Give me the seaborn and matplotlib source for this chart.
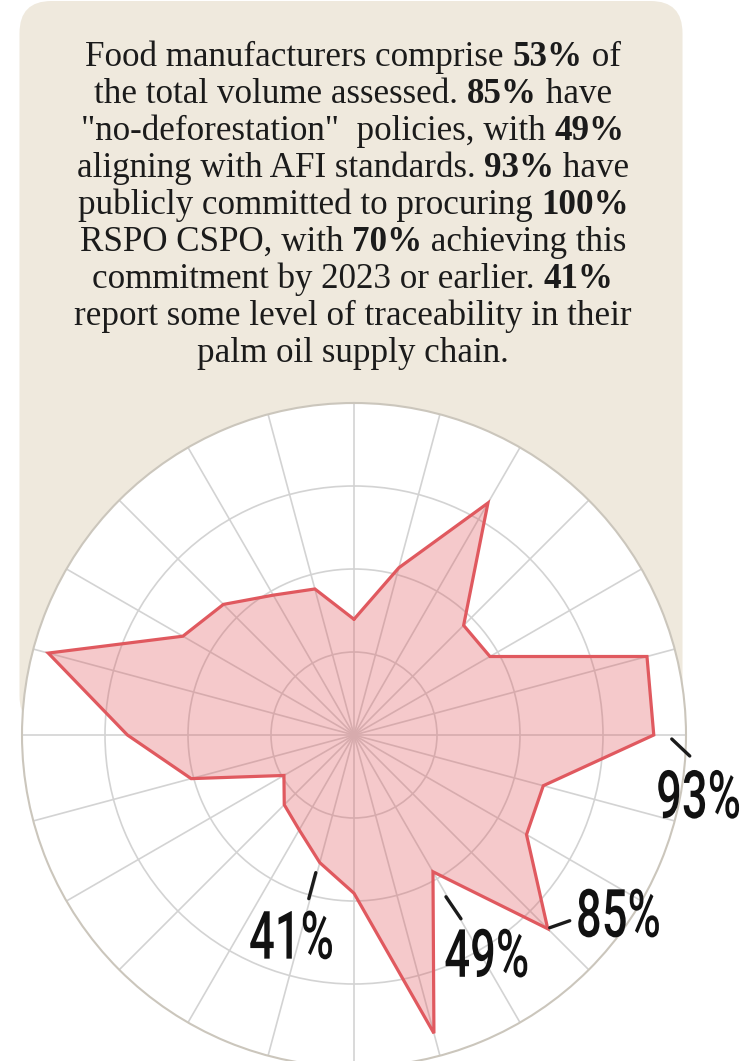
import numpy as np
import pandas as pd
import matplotlib
matplotlib.use("Agg")
import matplotlib.pyplot as plt
import seaborn as sns
from matplotlib.patches import FancyBboxPatch
from matplotlib.patheffects import AbstractPathEffect
from matplotlib.transforms import Affine2D, offset_copy

# ---- data -------------------------------------------------------------
# 24 spokes, clockwise from the top, 15 degrees apart
spoke_deg = np.arange(0, 360, 15)
scores = [35.9, 53.7, 83.1, 48.1, 48.7, 94.1, 93.0, 60.8, 61.8, 85.0, 49.0, 95.8,
          49.1, 41.0, 34.0, 30.6, 25.1, 52.3, 70.3, 98.2, 61.3, 57.3, 50.1, 46.9]

# highlighted spokes (index into scores) and their labels
callout_idx = [6, 9, 10, 13]
callout_text = ["93%", "85%", "49%", "41%"]

# intro paragraph, one list of (text, bold) runs per line
intro_lines = [
    [("Food manufacturers comprise ", False), ("53%", True), (" of", False)],
    [("the total volume assessed. ", False), ("85%", True), (" have", False)],
    [('"no-deforestation"  policies, with ', False), ("49%", True)],
    [("aligning with AFI standards. ", False), ("93%", True), (" have", False)],
    [("publicly committed to procuring ", False), ("100%", True)],
    [("RSPO CSPO, with ", False), ("70%", True), (" achieving this", False)],
    [("commitment by 2023 or earlier. ", False), ("41%", True)],
    [("report some level of traceability in their", False)],
    [("palm oil supply chain.", False)],
]

# ---- style ------------------------------------------------------------
W, H, DPI = 747, 1061, 100
BEIGE = "#efe9dd"
GRID = "#d3d3d3"
RIM = "#cbc6bc"
RED = "#e0595f"
INK = "#1b1b1b"
RMAX = 103

sns.set_theme(style="white")
plt.rcParams["font.family"] = ["Liberation Serif", "DejaVu Serif"]
LABEL_FONTS = ["Roboto", "DejaVu Sans"]


class Squeeze(AbstractPathEffect):
    """Draw glyphs narrowed horizontally, keeping the right edge in place."""

    def __init__(self, sx):
        super().__init__()
        self._sx = sx

    def draw_path(self, renderer, gc, tpath, affine, rgbFace=None):
        x1 = tpath.get_extents().x1
        squeeze = Affine2D().translate(-x1, 0).scale(self._sx, 1).translate(x1, 0)
        renderer.draw_path(gc, tpath, squeeze + affine, rgbFace)


fig = plt.figure(figsize=(W / DPI, H / DPI), dpi=DPI, facecolor="white")

# background canvas in pixel units
bg = fig.add_axes([0, 0, 1, 1])
bg.set_xlim(0, W)
bg.set_ylim(H, 0)
bg.axis("off")
bg.add_patch(FancyBboxPatch((19.5, 1), 663, 727,
                            boxstyle="round,pad=0,rounding_size=32",
                            fc=BEIGE, ec="none"))

# ---- intro paragraph with bold figures -------------------------------
FS = 25.2
renderer = fig.canvas.get_renderer()


def run_width(s, bold):
    w = "bold" if bold else "normal"
    t1 = bg.text(0, 0, "|" + s + "|", fontsize=FS, weight=w)
    t2 = bg.text(0, 0, "||", fontsize=FS, weight=w)
    width = (t1.get_window_extent(renderer).width
             - t2.get_window_extent(renderer).width)
    t1.remove()
    t2.remove()
    return width


x_mid, y0, lead = 353, 65.7, 37.0
for k, runs in enumerate(intro_lines):
    widths = [run_width(s, b) for s, b in runs]
    x = x_mid - sum(widths) / 2
    for (s, b), w in zip(runs, widths):
        bg.text(x, y0 + k * lead, s, fontsize=FS, color=INK,
                weight="bold" if b else "normal", ha="left", va="baseline")
        x += w

# ---- radar --------------------------------------------------------------
cx, cy, R = 354, 735, 332
ax = fig.add_axes([(cx - R) / W, (H - cy - R) / H, 2 * R / W, 2 * R / H],
                  projection="polar")
ax.set_theta_zero_location("N")
ax.set_theta_direction(-1)
ax.set_facecolor("white")
ax.set_axisbelow(True)

df = pd.DataFrame({
    "theta": np.deg2rad(np.r_[spoke_deg, 360]),
    "score": np.r_[scores, scores[0]],
})
ax.fill(df["theta"], df["score"], color=RED, alpha=0.32, lw=0, zorder=2)
sns.lineplot(data=df, x="theta", y="score", sort=False, estimator=None,
             ax=ax, color=RED, lw=2.3, zorder=3)
for ln in ax.lines:
    ln.set_solid_joinstyle("miter")

ax.set_ylim(0, RMAX)
ax.set_xticks(np.deg2rad(spoke_deg))
ax.set_xticklabels([])
ax.set_yticks([RMAX / 4, RMAX / 2, 3 * RMAX / 4])
ax.set_yticklabels([])
ax.tick_params(length=0, pad=0)
ax.grid(True, color=GRID, lw=1.2)
ax.spines["polar"].set_color(RIM)
ax.spines["polar"].set_linewidth(1.5)
ax.set_xlabel("")
ax.set_ylabel("")

# ---- callouts: leader tick + big condensed figure ------------------------
# pixel offsets from the vertex (right, down): leader start, leader end,
# text right edge / baseline
leader_offsets = {
    6: ((18, 4), (36, 21), (88, 83)),
    9: ((2, -1), (22, -8), (114, 8)),
    10: ((13, 25), (28, 47), (97, 105)),
    13: ((-4, 10), (-11, 36), (15, 96)),
}
for idx, label in zip(callout_idx, callout_text):
    th = np.deg2rad(spoke_deg[idx])
    val = scores[idx]
    (sx, sy), (ex, ey), (tx, ty) = leader_offsets[idx]
    ax.annotate("", xy=(th, val),
                xycoords=offset_copy(ax.transData, fig=fig, x=ex, y=-ey, units="dots"),
                xytext=(th, val),
                textcoords=offset_copy(ax.transData, fig=fig, x=sx, y=-sy, units="dots"),
                arrowprops=dict(arrowstyle="-", lw=2.4, color=INK,
                                shrinkA=0, shrinkB=0),
                annotation_clip=False)
    ax.text(th, val, label,
            transform=offset_copy(ax.transData, fig=fig, x=tx, y=-ty, units="dots"),
            ha="right", va="baseline", fontsize=48, family=LABEL_FONTS,
            weight="medium", color="#111111", clip_on=False,
            path_effects=[Squeeze(0.68)])

fig.savefig("out.png", dpi=DPI, facecolor="white")
